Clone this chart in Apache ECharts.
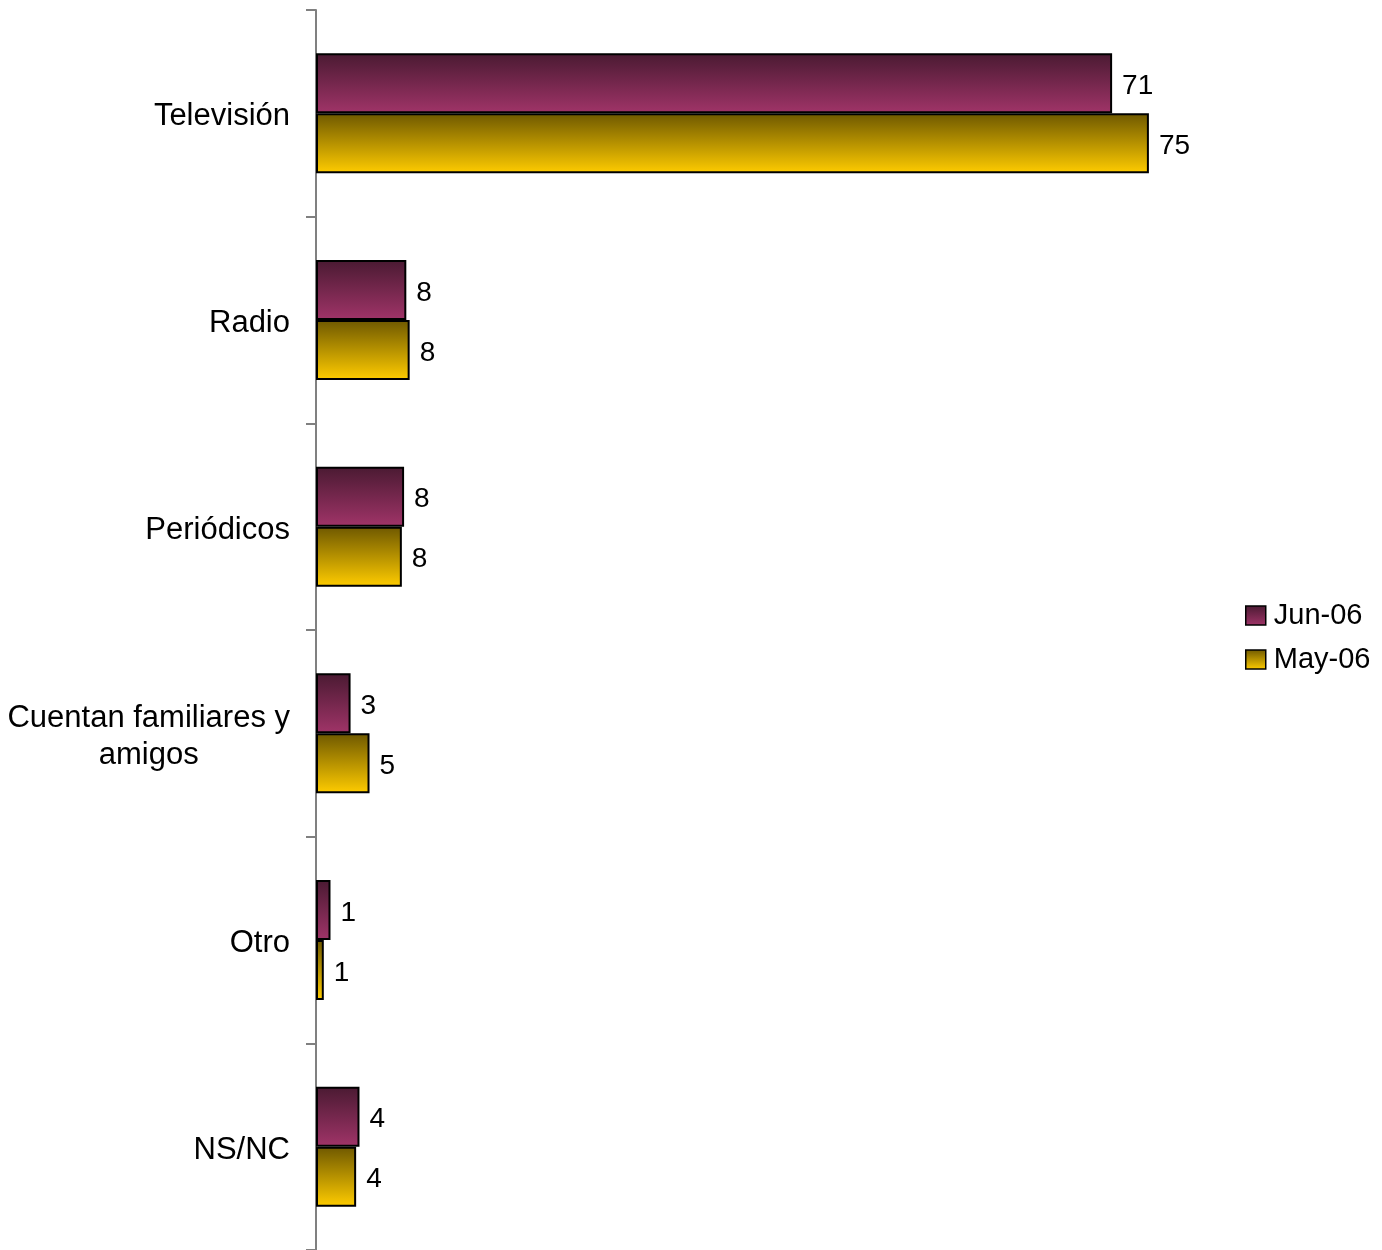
<!DOCTYPE html>
<html>
<head>
<meta charset="utf-8">
<script src="https://cdn.jsdelivr.net/npm/echarts@6/dist/echarts.min.js"></script>
<style>
  html, body { margin: 0; padding: 0; background: #ffffff; }
  #chart { width: 1382px; height: 1250px; }
</style>
</head>
<body>
<div id="chart"></div>
<script>
// Media sources, top to bottom
const categories = ['Televisión', 'Radio', 'Periódicos', 'Cuentan familiares y\namigos', 'Otro', 'NS/NC'];
const seriesNames = ['Jun-06', 'May-06'];
const jun06 = [71.4, 8.1, 7.9, 3.1, 1.3, 3.9];
const may06 = [74.7, 8.4, 7.7, 4.8, 0.7, 3.6];

const chart = echarts.init(document.getElementById('chart'), null, { renderer: 'canvas' });

const fontFamily = '"Liberation Sans", Arial, sans-serif';

function grad(top, bottom) {
  return new echarts.graphic.LinearGradient(0, 0, 0, 1, [
    { offset: 0, color: top },
    { offset: 1, color: bottom }
  ]);
}

const junFill = grad('#4a1a32', '#a03468');
const mayFill = grad('#6e5800', '#ffcc00');

const valueLabel = {
  show: true,
  position: 'right',
  distance: 10,
  offset: [0, 3],
  color: '#000',
  fontFamily: fontFamily,
  fontSize: 28,
  formatter: p => Math.round(p.value).toString()
};

chart.setOption({
  backgroundColor: '#ffffff',
  animation: false,
  legend: {
    orient: 'vertical',
    left: 1240,
    top: 596,
    itemWidth: 20,
    itemHeight: 19,
    itemGap: 15,
    icon: 'rect',
    textStyle: { fontFamily: fontFamily, fontSize: 29, color: '#000', padding: [0, 0, 0, 3] },
    data: [
      { name: seriesNames[0], itemStyle: { color: junFill, borderColor: '#000', borderWidth: 1.5 } },
      { name: seriesNames[1], itemStyle: { color: mayFill, borderColor: '#000', borderWidth: 1.5 } }
    ]
  },
  grid: { left: 316, top: 10, width: 892, height: 1246, containLabel: false },
  xAxis: {
    type: 'value',
    min: 0,
    max: 80,
    show: false
  },
  yAxis: {
    type: 'category',
    inverse: true,
    data: categories,
    axisLine: { show: true, lineStyle: { color: '#808080', width: 2 } },
    axisTick: { show: true, inside: false, length: 10, lineStyle: { color: '#808080', width: 2 } },
    axisLabel: {
      margin: 26,
      color: '#000',
      fontFamily: fontFamily,
      fontSize: 31,
      align: 'right',
      lineHeight: 37,
      padding: [7, 0, 0, 0],
      // each line is centred inside the right-aligned label block
      formatter: v => v.split('\n').map(s => '{c|' + s + '}').join('\n'),
      rich: {
        c: { align: 'center', fontFamily: fontFamily, fontSize: 31, lineHeight: 37, color: '#000' }
      }
    }
  },
  series: [
    {
      name: seriesNames[0],
      type: 'bar',
      data: jun06,
      barWidth: 60,
      barGap: '0%',
      itemStyle: { color: junFill, borderColor: '#000', borderWidth: 2 },
      label: valueLabel
    },
    {
      name: seriesNames[1],
      type: 'bar',
      data: may06,
      barWidth: 60,
      barGap: '0%',
      itemStyle: { color: mayFill, borderColor: '#000', borderWidth: 2 },
      label: valueLabel
    }
  ]
});
</script>
</body>
</html>
